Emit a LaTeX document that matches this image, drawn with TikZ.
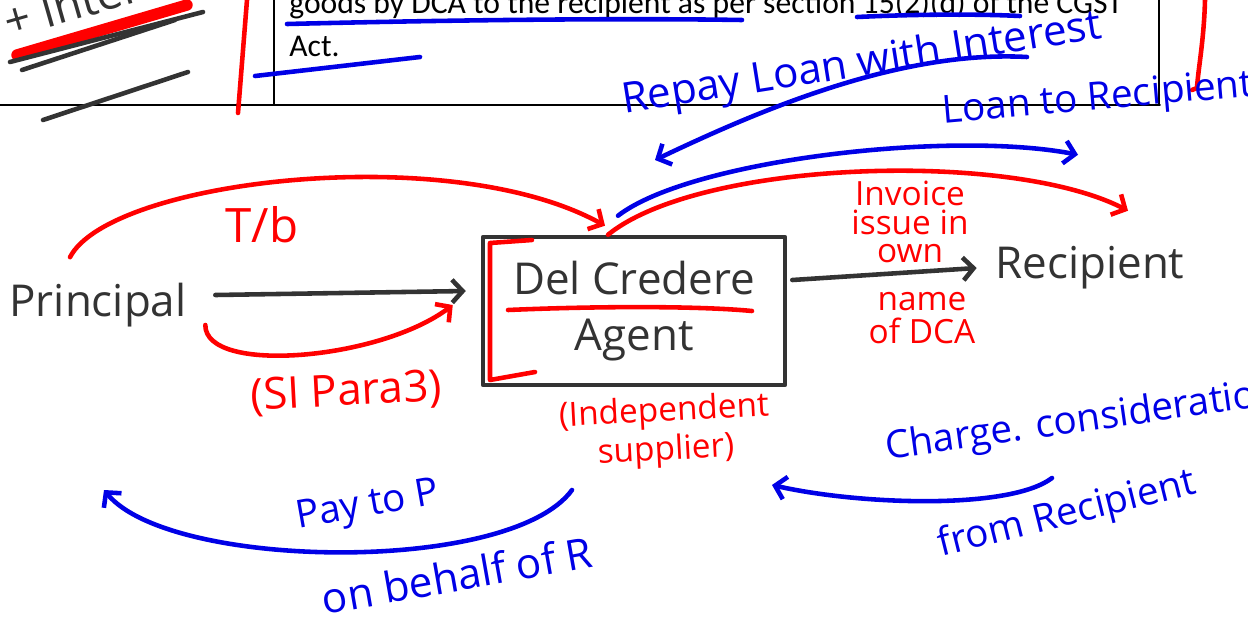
\documentclass[tikz,border=0pt]{standalone}
\usepackage{fontspec}
\setmainfont{Carlito}
\newfontfamily\handfont{Open Sans}
\usetikzlibrary{positioning,arrows.meta}
\definecolor{inkred}{RGB}{255,0,0}
\definecolor{inkblue}{RGB}{0,0,230}
\definecolor{inkdark}{RGB}{51,51,51}

\begin{document}
\begin{tikzpicture}[x=0.02cm, y=-0.02cm, >={Straight Barb[length=6pt,width=13pt]},
                    line cap=round, line join=round,
                    pen/.style={line width=2.6pt},
                    redpen/.style={pen, draw=inkred},
                    bluepen/.style={pen, draw=inkblue},
                    darkpen/.style={pen, draw=inkdark},
                    hand/.style={font=\handfont\fontsize{22}{24}\selectfont, inner sep=2pt, align=center},
                    redtext/.style={hand, text=inkred},
                    bluetext/.style={hand, text=inkblue},
                    darktext/.style={hand, text=inkdark, font=\handfont\fontsize{25}{28}\selectfont},
                    agentbox/.style={draw=inkdark, line width=2.6pt, minimum width=6.04cm, minimum height=2.96cm, align=center}]

      \clip (0,0) rectangle (1248,619);

      % Table from the page
      \draw[line width=1.1pt] (0,105) -- (1160,105);
      \draw[line width=1.1pt] (274,0) -- (274,105);
      \draw[line width=1.1pt] (1159,0) -- (1159,105);
      \node[anchor=base west, inner sep=0pt, font=\fontsize{18}{21}\selectfont] (row1) at (289,13)
            {goods by DCA to the recipient as per section 15(2)(d) of the CGST};
      \node[anchor=base west, inner sep=0pt, font=\fontsize{18}{21}\selectfont] (row2) at (289,56) {Act.};

      % Marks on the table
      \draw[bluepen] (287,24) .. controls (450,20) and (620,18) .. (742,20);
      \draw[bluepen] (857,17) .. controls (920,14) and (980,14) .. (1020,16);
      \draw[bluepen] (255,76) -- (420,57);
      \draw[redpen] (1205,0) .. controls (1204,40) and (1198,70) .. (1197,88) -- (1192,90);
      \draw[redpen] (247,0) -- (238,113);
      \node[hand, text=inkdark, rotate=16, anchor=base west, font=\handfont\fontsize{26}{28}\selectfont] (plusint) at (6,40) {+ Interest};
      \draw[draw=inkred, line width=6.5pt] (17,55) -- (187,5);
      \draw[darkpen] (10,62) -- (203,12);
      \draw[darkpen] (22,70) -- (175,20);
      \draw[darkpen] (43,120) -- (188,72);

      % Nodes
      \node[darktext] (principal) at (98,305) {Principal};
      \node[agentbox, font=\handfont\fontsize{25}{28}\selectfont, text=inkdark] (dca) at (634,311) {Del Credere\\[4pt]Agent};
      \node[darktext] (recipient) at (1090,268) {Recipient};

      \coordinate (payStart) at (572,490);
      \coordinate (payEnd) at (104,490);
      \coordinate (chargeStart) at (1052,478);
      \coordinate (chargeEnd) at (772,485);
      \coordinate (repayStart) at (1027,57);

      % Marks on the agent box
      \draw[redpen] (508,310) .. controls (600,306) and (700,306) .. (752,311);
      \draw[redpen] (532,240) -- (490,243) -- (490,380) -- (535,372);

      % Labels
      \node[redtext, font=\handfont\fontsize{27}{28}\selectfont] (tb) at (262,225) {T/b};
      \node[redtext, rotate=3, font=\handfont\fontsize{25}{28}\selectfont] (schedule) at (346,393) {(SI Para3)};
      \node[redtext, font=\handfont\fontsize{19}{16}\selectfont] (invoice) at (910,222) {Invoice\\issue in\\own};
      \node[redtext, font=\handfont\fontsize{19}{19}\selectfont] (ownname) at (922,318) {name\\of DCA};
      \node[redtext, rotate=3, font=\handfont\fontsize{19}{22}\selectfont] (indep) at (665,432) {(Independent\\supplier)};
      \node[bluetext, rotate=9, font=\handfont\fontsize{24}{26}\selectfont] (repay) at (862,65) {Repay Loan with Interest};
      \node[bluetext, rotate=5, font=\handfont\fontsize{22}{24}\selectfont] (loan) at (1098,100) {Loan to Recipient};
      \node[bluetext, rotate=8, anchor=west] (charge) at (882,450) {Charge. consideration};
      \node[bluetext, rotate=14] (fromrec) at (1067,515) {from Recipient};
      \node[bluetext, rotate=10] (pay) at (368,507) {Pay to P};
      \node[bluetext, rotate=10, font=\handfont\fontsize{24}{26}\selectfont] (behalf) at (457,575) {on behalf of R};

      % Directed Edges
      \draw[darkpen,->] ([xshift=0.5cm,yshift=0.2cm]principal.east) -- ([xshift=-0.3cm,yshift=0.4cm]dca.west);
      \draw[darkpen,->] ([xshift=0.1cm,yshift=0.62cm]dca.east) -- ([xshift=-0.3cm]recipient.west);
      \draw[redpen,->] ([xshift=-0.56cm,yshift=0.44cm]principal.north) .. controls (110,180) and (450,140) .. ([xshift=-0.58cm,yshift=0.18cm]dca.north);
      \draw[redpen,->] ([xshift=0.3cm,yshift=-0.4cm]principal.east) .. controls (205,375) and (380,360) .. ([xshift=-0.56cm,yshift=0.12cm]dca.west);
      \draw[redpen,->] ([xshift=-0.52cm]dca.north) .. controls (700,160) and (1010,150) .. ([xshift=0.76cm,yshift=0.64cm]recipient.north);
      \draw[bluepen,->] ([xshift=-0.32cm,yshift=0.38cm]dca.north) .. controls (690,160) and (950,130) .. ([xshift=-0.24cm,yshift=1.76cm]recipient.north);
      \draw[bluepen,->] (repayStart) .. controls (900,50) and (760,110) .. (655,160);
      \draw[bluepen,->] (chargeStart) .. controls (1010,510) and (860,505) .. (chargeEnd);
      \draw[bluepen,->] (payStart) .. controls (510,575) and (170,570) .. (payEnd);

\end{tikzpicture}
\end{document}
